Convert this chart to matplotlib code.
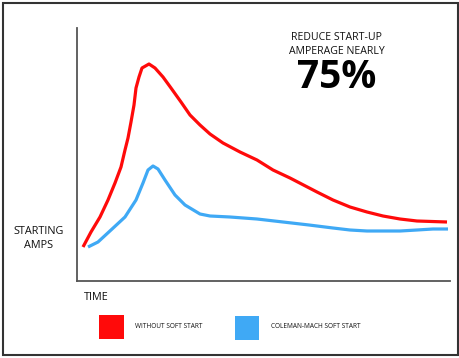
import matplotlib
matplotlib.use('Agg')
from matplotlib import pyplot as plt
from matplotlib.patches import Rectangle

plt.rcParams['font.family'] = ['Open Sans', 'DejaVu Sans']

# values (time / amps in arbitrary units)
t_without = [6, 14, 23, 31, 38, 44, 48, 51, 54, 57, 59, 62, 65, 72, 78, 86, 94, 104, 113, 123,
             133, 146, 163, 180, 196, 213, 240, 256, 273, 290, 306, 323, 340, 370]
a_without = [34, 49, 64, 81, 98, 114, 131, 143, 159, 176, 193, 204, 213, 217, 213, 204, 193, 179, 166, 156,
             147, 138, 129, 121, 111, 103, 89, 81, 74, 69, 65, 62, 60, 59]

t_soft = [11, 21, 34, 48, 59, 66, 71, 76, 81, 88, 98, 108, 113, 123, 133, 153, 180, 206, 232,
          256, 273, 290, 306, 323, 340, 356, 371]
a_soft = [34, 39, 51, 64, 81, 98, 111, 115, 112, 101, 86, 76, 73, 67, 65, 64, 62, 59, 56,
          53, 51, 50, 50, 50, 51, 52, 52]

red = '#ff0a0a'
blue = '#3fa9f5'

W, H = 460, 358
fig = plt.figure(figsize=(W/100, H/100), dpi=100)
ax = fig.add_axes([77/W, (H-281)/H, (450-77)/W, (281-28)/H])
ax.plot(t_without, a_without, c=red, lw=2.3, solid_capstyle='butt', solid_joinstyle='round')
ax.plot(t_soft, a_soft, c=blue, lw=2.3, solid_capstyle='butt', solid_joinstyle='round')
ax.set_xlim(0, 373)
ax.set_ylim(0, 253)
ax.set_xticks([])
ax.set_yticks([])
for s in ['top', 'right']:
    ax.spines[s].set_visible(False)
for s in ['left', 'bottom']:
    ax.spines[s].set_color('#555555')
    ax.spines[s].set_linewidth(1.3)

# outer frame
fig.patches.append(Rectangle((3/W, 3/H), (458-3)/W, (355-3)/H, transform=fig.transFigure,
                             fill=False, ec='#333333', lw=1.5))

def fx(x): return x/W
def fy(y): return (H-y)/H

fig.text(fx(39), fy(232), 'STARTING', ha='center', va='center', fontsize=7.8, color='#111111')
fig.text(fx(39), fy(246), 'AMPS', ha='center', va='center', fontsize=7.8, color='#111111')
fig.text(fx(84), fy(298), 'TIME', ha='left', va='center', fontsize=7.8, color='#111111')

fig.text(fx(336), fy(38), 'REDUCE START-UP', ha='center', va='center', fontsize=7.6, color='#111111')
fig.text(fx(337), fy(52), 'AMPERAGE NEARLY', ha='center', va='center', fontsize=7.6, color='#111111')
fig.text(fx(337), fy(77), '75%', ha='center', va='center', fontsize=28, fontweight='bold', color='black')

# legend
fig.patches.append(Rectangle((fx(99), fy(339)), 25/W, 24/H, transform=fig.transFigure, fc=red, ec='none'))
fig.patches.append(Rectangle((fx(235), fy(340)), 24/W, 24/H, transform=fig.transFigure, fc=blue, ec='none'))
fig.text(fx(135), fy(326), 'WITHOUT SOFT START', ha='left', va='center', fontsize=4.7, color='#111111')
fig.text(fx(271), fy(326), 'COLEMAN-MACH SOFT START', ha='left', va='center', fontsize=4.7, color='#111111')

fig.savefig('out.png', dpi=100)
